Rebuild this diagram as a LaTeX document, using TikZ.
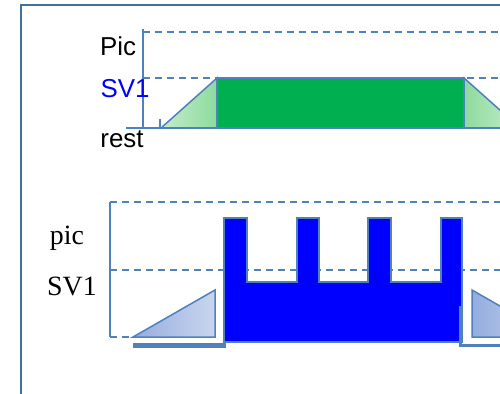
\documentclass[tikz,border=0pt]{standalone}
\usepackage{fontspec}
\setmainfont{Liberation Serif}
\newfontfamily\arialfont{Liberation Sans}
\definecolor{frameblue}{HTML}{41719C}
\definecolor{lineblue}{HTML}{4F81BD}
\definecolor{barg}{HTML}{00B050}
\definecolor{rampdark}{HTML}{8DDB9E}
\definecolor{ramplight}{HTML}{C4ECCB}
\definecolor{tridark}{HTML}{94ADDF}
\definecolor{trilight}{HTML}{CAD6EE}
\begin{document}
\begin{tikzpicture}[x=1bp,y=-1bp,
  gridline/.style={lineblue,line width=1.4bp,dash pattern=on 7bp off 5bp},
  axisline/.style={lineblue,line width=1.5bp},
  toplabel/.style={font=\arialfont\fontsize{26}{30}\selectfont,inner sep=0pt},
  botlabel/.style={font=\fontsize{28}{32}\selectfont,inner sep=0pt}]
\useasboundingbox (0,0) rectangle (500,393);
\clip (0,0) rectangle (500,393);
\fill[white] (0,0) rectangle (500,393);
% frame
\draw[frameblue,line width=2bp] (21,400) -- (21,5) -- (510,5);
% ---------- top chart ----------
\draw[gridline] (143,32) -- (510,32);
\draw[gridline] (143,78) -- (510,78);
\shade[left color=ramplight,right color=rampdark,draw=lineblue,line width=1.5bp]
  (161,128) -- (217,78) -- (217,128) -- cycle;
\shade[left color=rampdark,right color=ramplight,draw=lineblue,line width=1.5bp]
  (464,78) -- (520,128) -- (464,128) -- cycle;
\fill[barg,draw=lineblue,line width=1.5bp] (217,78) rectangle (464,128);
\draw[axisline] (143,29) -- (143,128);
\draw[axisline] (126,128) -- (510,128);
\draw[axisline] (160,119) -- (160,128);
\node[toplabel] (pic1) at (118,46) {Pic};
\node[toplabel,text=blue] (sv1a) at (125,89) {SV1};
\node[toplabel] (rest) at (122,139) {rest};
% ---------- bottom chart ----------
\draw[gridline] (110,202) -- (510,202);
\draw[gridline] (110,270) -- (510,270);
\draw[gridline] (110,337) -- (133,337);
\draw[lineblue,line width=1.2bp] (110,202) -- (110,337);
\shade[left color=tridark,right color=trilight,draw=lineblue,line width=1.5bp]
  (133,337) -- (215,290) -- (215,337) -- cycle;
\shade[left color=tridark,right color=trilight,draw=lineblue,line width=1.5bp]
  (472,290) -- (554,337) -- (472,337) -- cycle;
\draw[lineblue,line width=5bp] (133,345.5) -- (226,345.5);
\fill[blue,draw=lineblue,line width=2.5bp]
  (224,218) -- (247,218) -- (247,282) -- (297,282) -- (297,218) -- (319,218)
  -- (319,282) -- (368,282) -- (368,218) -- (391,218) -- (391,282) -- (441,282)
  -- (441,218) -- (462,218) -- (462,342) -- (224,342) -- cycle;
\draw[lineblue,line width=3bp] (460,306) -- (460,345) -- (510,345);
\node[botlabel] (pic2) at (67,238) {pic};
\node[botlabel] (sv1b) at (72,286) {SV1};
\end{tikzpicture}
\end{document}
